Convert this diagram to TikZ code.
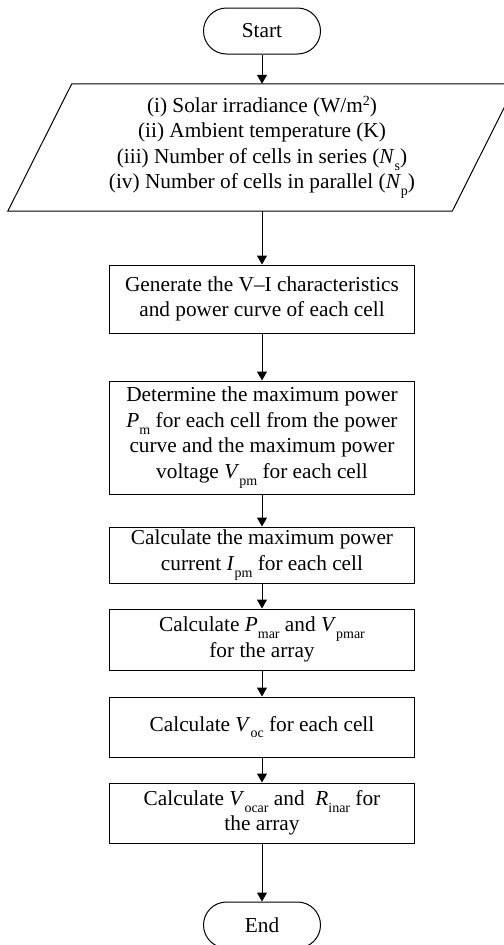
\documentclass[tikz,border=0pt]{standalone}
\usepackage{fontspec}
\setmainfont{Liberation Serif}
\usetikzlibrary{arrows.meta,calc}
\newcommand\sbs[1]{\raisebox{-0.32em}{\fontsize{14bp}{14bp}\selectfont #1}}
\newcommand\sps[1]{\raisebox{0.3em}{\fontsize{14bp}{14bp}\selectfont #1}}
\tikzset{
  txt/.style={align=center, inner sep=0pt, font=\fontsize{21.3bp}{25.5bp}\selectfont},
  box/.style={txt, draw, line width=1bp, minimum width=304bp},
  term/.style={txt, draw, line width=1bp, rounded corners=23bp, minimum width=117bp, minimum height=46bp},
  arr/.style={line width=1bp, -{Triangle[width=10bp,length=9bp]}}
}
\begin{document}
\begin{tikzpicture}[x=1bp,y=-1bp]
\useasboundingbox (0,0) rectangle (504,945);
\node[term] (start) at (262,31) {Start};
\node[txt, minimum width=380bp, minimum height=127bp] (inp) at (262,147.5)
  {(i) Solar irradiance (W/m\sps{2})\\
   (ii) Ambient temperature (K)\\
   (iii) Number of cells in series (\textit{N}\sbs{s})\\
   (iv) Number of cells in parallel (\textit{N}\sbs{p})};
\draw[line width=1bp] (inp.north west) -- ($(inp.north east)+(64,0)$) -- (inp.south east) -- ($(inp.south west)+(-64,0)$) -- cycle;
\node[box, minimum height=68bp] (b1) at (262,299)
  {Generate the V--I characteristics\\ and power curve of each cell};
\node[box, minimum height=113bp] (b2) at (262,437.5)
  {Determine the maximum power\\ \textit{P}\sbs{m} for each cell from the power\\ curve and the maximum power\\ voltage \textit{V}\sbs{pm} for each cell};
\node[box, minimum height=56bp] (b3) at (262,555)
  {Calculate the maximum power\\ current \textit{I}\sbs{pm} for each cell};
\node[box, minimum height=61bp] (b4) at (262,639.5)
  {Calculate \textit{P}\sbs{mar} and \textit{V}\sbs{pmar}\\ for the array};
\node[box, minimum height=60bp] (b5) at (262,727)
  {Calculate \textit{V}\sbs{oc} for each cell};
\node[box, minimum height=60bp] (b6) at (262,813)
  {Calculate \textit{V}\sbs{ocar} and\ \ \textit{R}\sbs{inar} for\\ the array};
\node[term] (end) at (262,925) {End};
\draw[arr] (start.south) -- (inp.north);
\draw[arr] (inp.south) -- (b1.north);
\draw[arr] (b1) -- (b2);
\draw[arr] (b2) -- (b3);
\draw[arr] (b3) -- (b4);
\draw[arr] (b4) -- (b5);
\draw[arr] (b5) -- (b6);
\draw[arr] (b6) -- (end);
\end{tikzpicture}
\end{document}
